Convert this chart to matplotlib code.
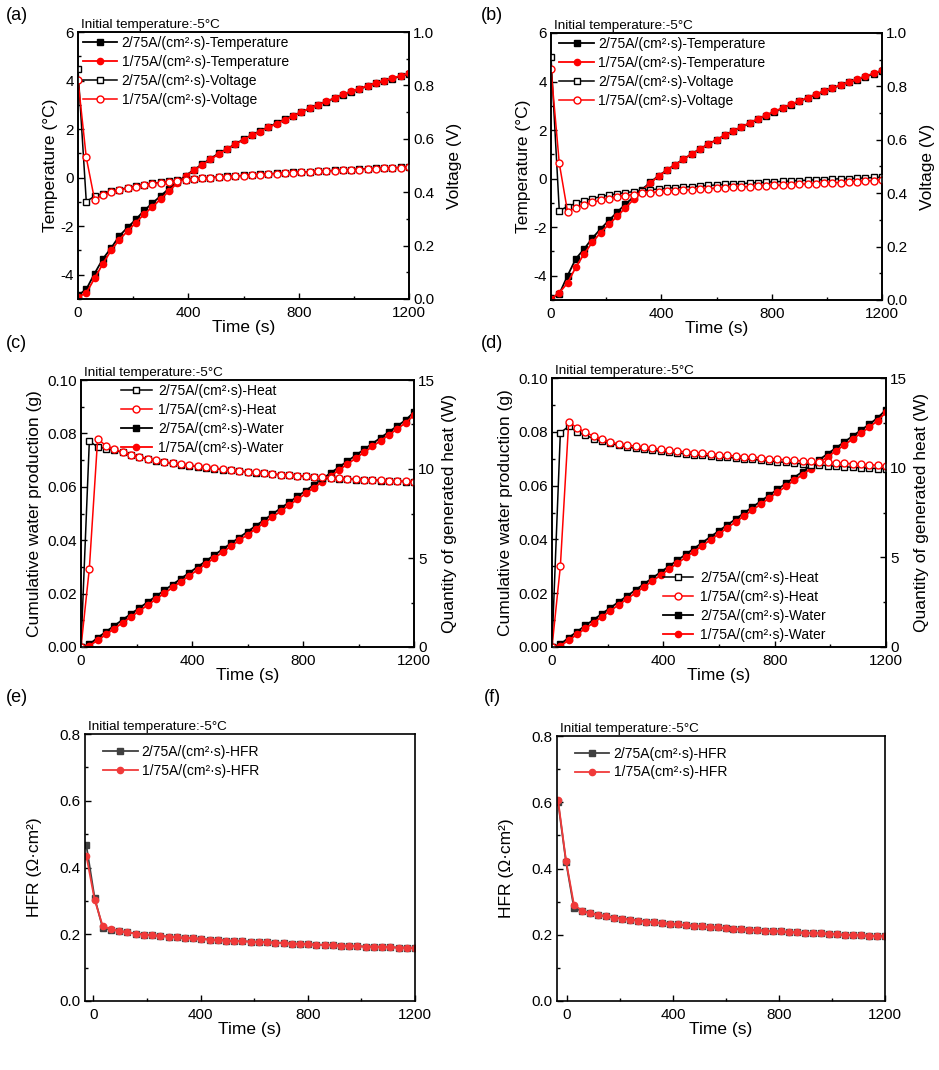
import numpy as np
import matplotlib
matplotlib.use("Agg")
import matplotlib.pyplot as plt
from matplotlib.ticker import MultipleLocator, FormatStrFormatter

plt.rcParams['font.family'] = ['Liberation Sans', 'DejaVu Sans']
plt.rcParams['font.size'] = 10
plt.rcParams['axes.unicode_minus'] = False

W, H = 939, 1070

# time grid of the temperature / voltage / heat / water runs (s)
t = np.arange(0, 1201, 30)

# (a) temperature (C) and voltage (V)
temp_a_2 = [-4.85, -4.6, -3.95, -3.35, -2.9, -2.4, -2.05, -1.72, -1.35, -1.05, -0.75,
            -0.45, -0.18, 0.08, 0.32, 0.55, 0.78, 1.0, 1.18, 1.38, 1.58, 1.75, 1.92,
            2.08, 2.25, 2.4, 2.55, 2.7, 2.85, 3.0, 3.13, 3.27, 3.4, 3.52, 3.65, 3.77,
            3.88, 3.98, 4.08, 4.18, 4.28]
temp_a_1 = [-4.92, -4.75, -4.15, -3.55, -3.0, -2.55, -2.2, -1.85, -1.5, -1.2, -0.88,
            -0.55, -0.22, 0.05, 0.3, 0.52, 0.75, 0.97, 1.17, 1.37, 1.56, 1.74, 1.9,
            2.07, 2.22, 2.38, 2.54, 2.7, 2.86, 3.0, 3.14, 3.28, 3.43, 3.55, 3.67, 3.79,
            3.9, 4.0, 4.1, 4.2, 4.3]
volt_a_2 = [0.86, 0.365, 0.385, 0.395, 0.403, 0.41, 0.417, 0.423, 0.428, 0.433, 0.437,
            0.441, 0.444, 0.447, 0.45, 0.453, 0.455, 0.457, 0.459, 0.461, 0.463, 0.465,
            0.467, 0.469, 0.471, 0.472, 0.474, 0.476, 0.477, 0.479, 0.48, 0.482, 0.483,
            0.485, 0.486, 0.488, 0.489, 0.49, 0.492, 0.493, 0.495]
volt_a_1 = [0.82, 0.53, 0.372, 0.39, 0.4, 0.408, 0.415, 0.421, 0.427, 0.432, 0.436,
            0.44, 0.443, 0.446, 0.449, 0.452, 0.454, 0.456, 0.458, 0.46, 0.462, 0.464,
            0.466, 0.468, 0.47, 0.471, 0.473, 0.475, 0.476, 0.478, 0.479, 0.481, 0.482,
            0.484, 0.485, 0.487, 0.488, 0.489, 0.491, 0.492, 0.494]

# (b)
temp_b_2 = [-4.92, -4.75, -4.0, -3.3, -2.9, -2.45, -2.07, -1.72, -1.38, -1.05, -0.75,
            -0.45, -0.15, 0.12, 0.35, 0.58, 0.8, 1.02, 1.22, 1.42, 1.6, 1.78, 1.95,
            2.12, 2.28, 2.44, 2.6, 2.75, 2.9, 3.05, 3.18, 3.32, 3.46, 3.6, 3.72, 3.85,
            3.97, 4.08, 4.2, 4.32, 4.45]
temp_b_1 = [-4.95, -4.7, -4.3, -3.65, -3.1, -2.62, -2.22, -1.88, -1.55, -1.2, -0.85,
            -0.5, -0.18, 0.1, 0.34, 0.57, 0.79, 1.01, 1.21, 1.41, 1.6, 1.78, 1.96,
            2.13, 2.3, 2.46, 2.62, 2.77, 2.92, 3.06, 3.2, 3.34, 3.48, 3.61, 3.74, 3.86,
            3.98, 4.1, 4.22, 4.34, 4.46]
volt_b_2 = [0.91, 0.335, 0.35, 0.362, 0.372, 0.38, 0.387, 0.393, 0.398, 0.402, 0.406,
            0.41, 0.413, 0.416, 0.419, 0.421, 0.423, 0.425, 0.427, 0.429, 0.431, 0.433,
            0.435, 0.436, 0.438, 0.44, 0.441, 0.443, 0.444, 0.446, 0.447, 0.449, 0.45,
            0.451, 0.453, 0.454, 0.455, 0.456, 0.457, 0.459, 0.46]
volt_b_1 = [0.866, 0.512, 0.331, 0.345, 0.357, 0.366, 0.374, 0.38, 0.386, 0.391, 0.395,
            0.399, 0.402, 0.405, 0.407, 0.409, 0.411, 0.413, 0.415, 0.417, 0.419, 0.42,
            0.422, 0.423, 0.425, 0.426, 0.428, 0.429, 0.43, 0.432, 0.433, 0.435, 0.436,
            0.437, 0.439, 0.44, 0.442, 0.443, 0.445, 0.447, 0.449]

# (c) water (g) and heat (W)
water_c_2 = [0, 0.0010, 0.0035, 0.0057, 0.0080, 0.0102, 0.0124, 0.0146, 0.0168, 0.0190,
             0.0212, 0.0234, 0.0256, 0.0278, 0.0300, 0.0322, 0.0344, 0.0366, 0.0388,
             0.0410, 0.0432, 0.0454, 0.0476, 0.0498, 0.0520, 0.0542, 0.0564, 0.0586,
             0.0608, 0.0630, 0.0652, 0.0674, 0.0696, 0.0718, 0.0740, 0.0762, 0.0784,
             0.0806, 0.0828, 0.0850, 0.0880]
water_c_1 = [0, 0.0005, 0.0025, 0.0047, 0.0069, 0.0091, 0.0113, 0.0135, 0.0157, 0.0179,
             0.0201, 0.0223, 0.0245, 0.0267, 0.0289, 0.0311, 0.0333, 0.0355, 0.0377,
             0.0399, 0.0421, 0.0443, 0.0465, 0.0487, 0.0509, 0.0531, 0.0553, 0.0575,
             0.0597, 0.0619, 0.0641, 0.0663, 0.0685, 0.0707, 0.0729, 0.0751, 0.0773,
             0.0795, 0.0817, 0.0840, 0.0868]
heat_c_2 = [0, 11.55, 11.25, 11.15, 11.05, 10.93, 10.78, 10.66, 10.56, 10.46, 10.38,
            10.31, 10.25, 10.19, 10.13, 10.07, 10.02, 9.97, 9.92, 9.87, 9.83, 9.79,
            9.75, 9.71, 9.67, 9.64, 9.61, 9.58, 9.55, 9.52, 9.49, 9.46, 9.44, 9.41,
            9.39, 9.37, 9.35, 9.33, 9.31, 9.29, 9.27]
heat_c_1 = [0, 4.4, 11.7, 11.3, 11.1, 10.95, 10.8, 10.68, 10.58, 10.48, 10.4, 10.33,
            10.27, 10.21, 10.15, 10.09, 10.04, 9.99, 9.94, 9.89, 9.85, 9.81, 9.77,
            9.73, 9.69, 9.66, 9.63, 9.6, 9.57, 9.54, 9.51, 9.48, 9.46, 9.43, 9.41,
            9.39, 9.37, 9.35, 9.33, 9.31, 9.29]

# (d)
water_d_2 = [0, 0.0010, 0.0035, 0.0057, 0.0080, 0.0102, 0.0124, 0.0146, 0.0168, 0.0190,
             0.0212, 0.0234, 0.0256, 0.0278, 0.0300, 0.0322, 0.0344, 0.0366, 0.0388,
             0.0410, 0.0432, 0.0454, 0.0476, 0.0498, 0.0520, 0.0542, 0.0564, 0.0586,
             0.0608, 0.0630, 0.0652, 0.0674, 0.0696, 0.0718, 0.0740, 0.0762, 0.0784,
             0.0806, 0.0828, 0.0852, 0.0882]
water_d_1 = [0, 0.0005, 0.0025, 0.0047, 0.0069, 0.0091, 0.0113, 0.0135, 0.0157, 0.0179,
             0.0201, 0.0223, 0.0245, 0.0267, 0.0289, 0.0311, 0.0333, 0.0355, 0.0377,
             0.0399, 0.0421, 0.0443, 0.0465, 0.0487, 0.0509, 0.0531, 0.0553, 0.0575,
             0.0597, 0.0619, 0.0641, 0.0663, 0.0685, 0.0707, 0.0729, 0.0751, 0.0773,
             0.0795, 0.0817, 0.0842, 0.0872]
heat_d_2 = [0, 11.95, 12.3, 12.0, 11.8, 11.62, 11.47, 11.35, 11.24, 11.15, 11.08,
            11.02, 10.97, 10.92, 10.87, 10.82, 10.77, 10.73, 10.69, 10.65, 10.61,
            10.57, 10.54, 10.5, 10.46, 10.42, 10.38, 10.33, 10.29, 10.25, 10.21,
            10.17, 10.14, 10.11, 10.08, 10.05, 10.02, 9.99, 9.97, 9.95, 9.94]
heat_d_1 = [0, 4.5, 12.55, 12.22, 11.97, 11.75, 11.58, 11.43, 11.32, 11.25, 11.2,
            11.13, 11.07, 11.02, 10.97, 10.92, 10.88, 10.84, 10.8, 10.76, 10.72,
            10.68, 10.65, 10.62, 10.58, 10.55, 10.51, 10.47, 10.44, 10.41, 10.38,
            10.35, 10.32, 10.3, 10.27, 10.25, 10.22, 10.19, 10.16, 10.13, 10.1]

# (e) HFR (ohm cm2)
t_hfr_e = np.linspace(-26, 1200, 41)
hfr_e_2 = [0.466, 0.31, 0.218, 0.214, 0.21, 0.206, 0.202, 0.199, 0.197, 0.195, 0.193,
           0.191, 0.189, 0.188, 0.186, 0.184, 0.183, 0.181, 0.18, 0.179, 0.178, 0.177,
           0.176, 0.175, 0.174, 0.172, 0.171, 0.17, 0.169, 0.168, 0.167, 0.166, 0.165,
           0.164, 0.163, 0.163, 0.162, 0.161, 0.16, 0.16, 0.159]
hfr_e_1 = [0.435, 0.304, 0.224, 0.215, 0.21, 0.206, 0.202, 0.199, 0.197, 0.195, 0.193,
           0.191, 0.189, 0.188, 0.186, 0.184, 0.183, 0.181, 0.18, 0.179, 0.178, 0.177,
           0.176, 0.175, 0.174, 0.172, 0.171, 0.17, 0.169, 0.168, 0.167, 0.166, 0.165,
           0.164, 0.163, 0.163, 0.162, 0.161, 0.16, 0.16, 0.159]

# (f)
t_hfr_f = np.linspace(-34, 1200, 42)
hfr_f_2 = [0.6, 0.42, 0.28, 0.272, 0.265, 0.26, 0.256, 0.252, 0.249, 0.246, 0.243,
           0.24, 0.238, 0.235, 0.233, 0.231, 0.229, 0.227, 0.225, 0.223, 0.222, 0.22,
           0.218, 0.217, 0.215, 0.214, 0.212, 0.211, 0.21, 0.208, 0.207, 0.206, 0.205,
           0.204, 0.203, 0.201, 0.2, 0.199, 0.198, 0.197, 0.196, 0.195]
hfr_f_1 = [0.606, 0.423, 0.29, 0.273, 0.265, 0.26, 0.256, 0.252, 0.249, 0.246, 0.243,
           0.24, 0.238, 0.235, 0.233, 0.231, 0.229, 0.227, 0.225, 0.223, 0.222, 0.22,
           0.218, 0.217, 0.215, 0.214, 0.212, 0.211, 0.21, 0.208, 0.207, 0.206, 0.205,
           0.204, 0.203, 0.201, 0.2, 0.199, 0.198, 0.197, 0.196, 0.195]

lbl2 = "2/75A/(cm²·s)"
lbl1 = "1/75A/(cm²·s)"
note = "Initial temperature:-5°C"

fig = plt.figure(figsize=(W / 100, H / 100), dpi=100)


def box(l, top, r, b):
    return [l / W, 1 - b / H, (r - l) / W, (b - top) / H]


def style(ax, right=False):
    ax.tick_params(which='both', direction='in', labelsize=11, width=1, pad=3)
    ax.tick_params(axis='x', which='both', pad=5)
    ax.tick_params(which='major', length=4)
    ax.tick_params(which='minor', length=2.5)
    ax.tick_params(top=False, which='both')
    if not right:
        ax.tick_params(right=False, which='both')
    for s in ax.spines.values():
        s.set_linewidth(1.2)


def tv_panel(rect, temp2, temp1, volt2, volt1, legx, tag, tagx):
    ax = fig.add_axes(box(*rect))
    ax2 = ax.twinx()
    ax.plot(t, temp2, '-s', color='k', ms=5, lw=1.3, label=lbl2 + "-Temperature")
    ax.plot(t, temp1, '-o', color='red', ms=4.5, lw=1.3, label=lbl1 + "-Temperature")
    ax2.plot(t, volt2, '-s', color='k', mfc='white', ms=5, lw=1.1, label=lbl2 + "-Voltage")
    ax2.plot(t, volt1, '-o', color='red', mfc='white', ms=5, lw=1.1, label=lbl1 + "-Voltage")
    ax.set_xlim(0, 1200)
    ax.set_ylim(-5, 6)
    ax2.set_ylim(0, 1.0)
    ax.xaxis.set_major_locator(MultipleLocator(400))
    ax.xaxis.set_minor_locator(MultipleLocator(200))
    ax.yaxis.set_major_locator(MultipleLocator(2))
    ax.yaxis.set_minor_locator(MultipleLocator(1))
    ax2.yaxis.set_major_locator(MultipleLocator(0.2))
    ax2.yaxis.set_minor_locator(MultipleLocator(0.1))
    ax2.yaxis.set_major_formatter(FormatStrFormatter('%.1f'))
    ax.set_ylabel("Temperature (°C)", fontsize=12.5, labelpad=2)
    ax2.set_ylabel("Voltage (V)", fontsize=12.5, labelpad=9)
    ax.set_xlabel("Time (s)", fontsize=12.5, labelpad=0)
    style(ax)
    style(ax2, right=True)
    ax2.tick_params(left=False, which='both')
    h1, l1 = ax.get_legend_handles_labels()
    h2, l2 = ax2.get_legend_handles_labels()
    ax2.legend(h1 + h2, l1 + l2, loc='upper left', bbox_to_anchor=(legx, 0.985),
               frameon=False, fontsize=10, borderpad=0, borderaxespad=0,
               handlelength=2.5, handletextpad=0.3, labelspacing=0.35)
    ax.text(0.01, 1.005, note, transform=ax.transAxes, fontsize=9.7, va='bottom', ha='left')
    fig.text(tagx / W, 1 - 15 / H, tag, fontsize=13, va='center', ha='left')


def wh_panel(rect, water2, water1, heat2, heat1, tag, tagx, tagy, legpos):
    ax = fig.add_axes(box(*rect))
    ax2 = ax.twinx()
    ax2.plot(t, heat2, '-s', color='k', mfc='white', ms=5, lw=1.1, label=lbl2 + "-Heat")
    ax2.plot(t, heat1, '-o', color='red', mfc='white', ms=5, lw=1.1, label=lbl1 + "-Heat")
    ax.plot(t, water2, '-s', color='k', ms=5, lw=1.3, label=lbl2 + "-Water")
    ax.plot(t, water1, '-o', color='red', ms=4.5, lw=1.3, label=lbl1 + "-Water")
    ax.set_xlim(0, 1200)
    ax.set_ylim(0, 0.10)
    ax2.set_ylim(0, 15)
    ax.xaxis.set_major_locator(MultipleLocator(400))
    ax.xaxis.set_minor_locator(MultipleLocator(200))
    ax.yaxis.set_major_locator(MultipleLocator(0.02))
    ax.yaxis.set_minor_locator(MultipleLocator(0.01))
    ax.yaxis.set_major_formatter(FormatStrFormatter('%.2f'))
    ax2.yaxis.set_major_locator(MultipleLocator(5))
    ax2.yaxis.set_minor_locator(MultipleLocator(2.5))
    ax.set_ylabel("Cumulative water production (g)", fontsize=12.5, labelpad=4)
    ax2.set_ylabel("Quantity of generated heat (W)", fontsize=12.5, labelpad=5)
    ax.set_xlabel("Time (s)", fontsize=12.5, labelpad=0)
    style(ax)
    style(ax2, right=True)
    ax2.tick_params(left=False, which='both')
    h1, l1 = ax2.get_legend_handles_labels()
    h2, l2 = ax.get_legend_handles_labels()
    loc, anchor = legpos
    ax2.legend(h1 + h2, l1 + l2, loc=loc, bbox_to_anchor=anchor,
               frameon=False, fontsize=10, borderpad=0, borderaxespad=0,
               handlelength=2.2, handletextpad=0.5, labelspacing=0.35)
    ax.text(0.01, 1.005, note, transform=ax.transAxes, fontsize=9.7, va='bottom', ha='left')
    fig.text(tagx / W, 1 - tagy / H, tag, fontsize=13, va='center', ha='left')


def hfr_panel(rect, th, h2, h1, xmin, lab2, lab1, tag, tagx):
    ax = fig.add_axes(box(*rect))
    ax.plot(th, h2, '-s', color='#404040', ms=4.5, lw=1.3, label=lab2)
    ax.plot(th, h1, '-o', color='#f03a3a', ms=4.5, lw=1.3, label=lab1)
    ax.set_xlim(xmin, 1200)
    ax.set_ylim(0, 0.8)
    ax.xaxis.set_major_locator(MultipleLocator(400))
    ax.xaxis.set_minor_locator(MultipleLocator(200))
    ax.yaxis.set_major_locator(MultipleLocator(0.2))
    ax.yaxis.set_minor_locator(MultipleLocator(0.1))
    ax.yaxis.set_major_formatter(FormatStrFormatter('%.1f'))
    ax.set_ylabel("HFR (Ω·cm²)", fontsize=12.5, labelpad=13)
    ax.set_xlabel("Time (s)", fontsize=12.5, labelpad=0)
    style(ax)
    ax.legend(loc='upper left', bbox_to_anchor=(0.054, 0.96), frameon=False, fontsize=10,
              borderpad=0, borderaxespad=0, handlelength=2.5, handletextpad=0.3,
              labelspacing=0.35)
    ax.text(0.01, 1.005, note, transform=ax.transAxes, fontsize=9.7, va='bottom', ha='left')
    fig.text(tagx / W, 1 - 698 / H, tag, fontsize=13, va='center', ha='left')


tv_panel((78, 32, 409, 299), temp_a_2, temp_a_1, volt_a_2, volt_a_1, 0.014, "(a)", 6)
tv_panel((551, 33, 882, 300), temp_b_2, temp_b_1, volt_b_2, volt_b_1, 0.025, "(b)", 481)
wh_panel((81, 380, 414, 647), water_c_2, water_c_1, heat_c_2, heat_c_1, "(c)", 6, 343,
         ('upper left', (0.12, 0.985)))
wh_panel((552, 378, 886, 647), water_d_2, water_d_1, heat_d_2, heat_d_1, "(d)", 481, 343,
         ('lower left', (0.331, 0.02)))
hfr_panel((85, 734, 415, 1001), t_hfr_e, hfr_e_2, hfr_e_1, -31,
          "2/75A/(cm²·s)-HFR", "1/75A/(cm²·s)-HFR", "(e)", 6)
hfr_panel((557, 736, 885, 1001), t_hfr_f, hfr_f_2, hfr_f_1, -38,
          "2/75A(cm²·s)-HFR", "1/75A(cm²·s)-HFR", "(f)", 484)

fig.savefig("out.png", dpi=100)
